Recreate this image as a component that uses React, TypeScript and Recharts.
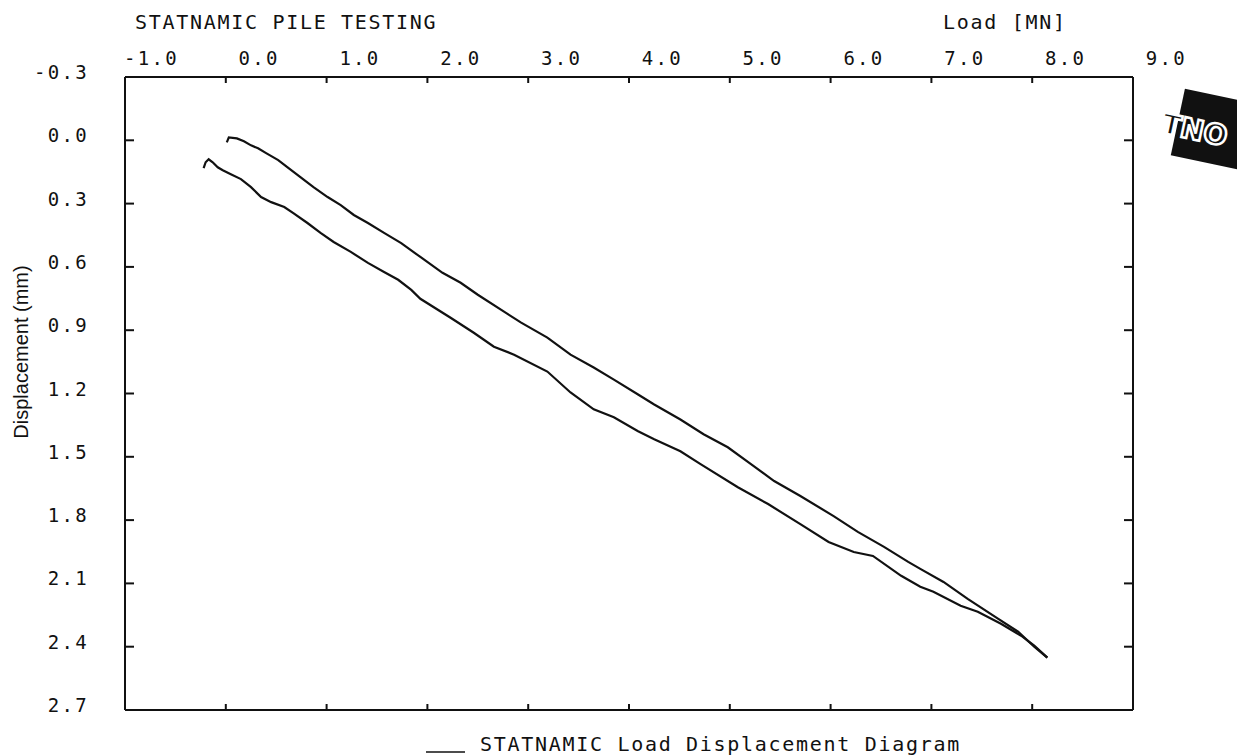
import React from "react";
import { LineChart, Line, XAxis, YAxis } from "recharts";

// Tick values
const xTicks = [-1, 0, 1, 2, 3, 4, 5, 6, 7, 8, 9];
const yTicks = [-0.3, 0, 0.3, 0.6, 0.9, 1.2, 1.5, 1.8, 2.1, 2.4, 2.7];

// Loading branch (upper curve) – Load [MN], Displacement [mm]
const loadingLoad = [0.01, 0.03, 0.11, 0.18, 0.25, 0.32, 0.40, 0.52, 0.61, 0.74, 0.87, 1.01, 1.14, 1.27, 1.41, 1.57, 1.74, 1.93, 2.15, 2.33, 2.50, 2.76, 2.93, 3.19, 3.42, 3.65, 3.85, 4.09, 4.25, 4.51, 4.74, 4.98, 5.21, 5.44, 5.70, 6.03, 6.27, 6.53, 6.77, 6.89, 7.12, 7.36, 7.66, 7.86, 8.02, 8.15];
const loadingDisp = [0.01, -0.014, -0.009, 0.005, 0.024, 0.038, 0.061, 0.094, 0.127, 0.175, 0.222, 0.269, 0.307, 0.354, 0.392, 0.439, 0.487, 0.553, 0.628, 0.675, 0.732, 0.812, 0.864, 0.935, 1.016, 1.077, 1.134, 1.205, 1.252, 1.323, 1.393, 1.455, 1.535, 1.615, 1.686, 1.781, 1.856, 1.927, 1.998, 2.031, 2.093, 2.173, 2.267, 2.329, 2.400, 2.452];

// Unloading branch (lower curve)
const unloadingLoad = [8.15, 8.02, 7.89, 7.69, 7.46, 7.29, 7.02, 6.89, 6.70, 6.42, 6.23, 5.98, 5.70, 5.38, 5.08, 4.71, 4.51, 4.25, 4.09, 3.85, 3.65, 3.42, 3.19, 2.86, 2.66, 2.46, 2.23, 1.93, 1.84, 1.71, 1.57, 1.41, 1.24, 1.07, 0.94, 0.81, 0.67, 0.58, 0.45, 0.35, 0.25, 0.15, 0.05, -0.03, -0.08, -0.13, -0.17, -0.20, -0.22];
const unloadingDisp = [2.452, 2.395, 2.348, 2.291, 2.234, 2.206, 2.140, 2.116, 2.064, 1.970, 1.951, 1.904, 1.819, 1.724, 1.644, 1.535, 1.474, 1.417, 1.379, 1.313, 1.275, 1.195, 1.096, 1.016, 0.978, 0.912, 0.841, 0.751, 0.709, 0.661, 0.624, 0.581, 0.529, 0.482, 0.439, 0.392, 0.345, 0.316, 0.293, 0.269, 0.222, 0.184, 0.161, 0.142, 0.128, 0.104, 0.090, 0.104, 0.132];

const titleText = "STATNAMIC PILE TESTING";
const xAxisTitle = "Load [MN]";
const yAxisTitle = "Displacement (mm)";
const legendText = "STATNAMIC Load Displacement Diagram";
const logoText = "TNO";

const loadingData = loadingLoad.map((l, i) => ({ load: l, disp: loadingDisp[i] }));
const unloadingData = unloadingLoad.map((l, i) => ({ load: l, disp: unloadingDisp[i] }));

const INK = "#111";
const tickFont: React.CSSProperties = {
  fontFamily: "'DejaVu Sans Mono', monospace",
  fontSize: 19,
  letterSpacing: 2.3,
  fill: INK,
};
const labelFont: React.CSSProperties = {
  fontFamily: "'DejaVu Sans Mono', monospace",
  fontSize: 20,
  letterSpacing: 1.7,
  fill: INK,
};

const TopTick = (props: any) => {
  const { x, y, payload } = props;
  return (
    <text x={x + 54} y={y} textAnchor="end" style={tickFont}>
      {Number(payload.value).toFixed(1)}
    </text>
  );
};

const LeftTick = (props: any) => {
  const { x, y, payload } = props;
  return (
    <text x={x} y={y + 2} textAnchor="end" style={tickFont}>
      {Number(payload.value).toFixed(1)}
    </text>
  );
};

const NoTick = () => <g />;

export default function App() {
  const W = 1237;
  const H = 756;
  return (
    <div style={{ position: "absolute", left: 0, top: 0, width: W, height: H, background: "#fff" }}>
      <LineChart width={W} height={H} margin={{ top: 0, right: 0, bottom: 0, left: 0 }}>
        <XAxis
          xAxisId="top"
          orientation="top"
          type="number"
          dataKey="load"
          domain={[-1, 9]}
          ticks={xTicks}
          interval={0}
          height={77}
          tickSize={-6}
          tickMargin={18}
          stroke={INK}
          strokeWidth={2}
          tick={TopTick}
          allowDataOverflow
        />
        <XAxis
          xAxisId="bottom"
          orientation="bottom"
          type="number"
          dataKey="load"
          domain={[-1, 9]}
          ticks={xTicks}
          interval={0}
          height={46}
          tickSize={-6}
          stroke={INK}
          strokeWidth={2}
          tick={NoTick}
          allowDataOverflow
        />
        <YAxis
          yAxisId="left"
          orientation="left"
          type="number"
          dataKey="disp"
          domain={[-0.3, 2.7]}
          reversed
          ticks={yTicks}
          interval={0}
          width={125}
          tickSize={-9}
          tickMargin={45}
          stroke={INK}
          strokeWidth={2}
          tick={LeftTick}
          allowDataOverflow
        />
        <YAxis
          yAxisId="right"
          orientation="right"
          type="number"
          dataKey="disp"
          domain={[-0.3, 2.7]}
          reversed
          ticks={yTicks}
          interval={0}
          width={104}
          tickSize={-9}
          stroke={INK}
          strokeWidth={2}
          tick={NoTick}
          allowDataOverflow
        />
        <Line
          xAxisId="top"
          yAxisId="left"
          data={loadingData}
          dataKey="disp"
          type="linear"
          stroke={INK}
          strokeWidth={2.2}
          dot={false}
          activeDot={false}
          isAnimationActive={false}
        />
        <Line
          xAxisId="top"
          yAxisId="left"
          data={unloadingData}
          dataKey="disp"
          type="linear"
          stroke={INK}
          strokeWidth={2.2}
          dot={false}
          activeDot={false}
          isAnimationActive={false}
        />
      </LineChart>
      <svg
        width={W}
        height={H}
        style={{ position: "absolute", left: 0, top: 0, pointerEvents: "none" }}
      >
        <text x={135} y={29} style={labelFont}>{titleText}</text>
        <text x={943} y={29} style={labelFont}>{xAxisTitle}</text>
        <text
          transform="translate(28,352) rotate(-90)"
          textAnchor="middle"
          style={{ fontFamily: "'Liberation Sans', Arial, sans-serif", fontSize: 20, fill: INK }}
        >
          {yAxisTitle}
        </text>
        <line x1={426} x2={465} y1={752} y2={752} stroke={INK} strokeWidth={1.5} />
        <text x={480} y={751} style={labelFont}>{legendText}</text>
        <g transform="translate(1197,128) rotate(12)">
          <rect x={-20} y={-36} width={70} height={68} fill={INK} />
          <text
            x={-2}
            y={12}
            textAnchor="middle"
            style={{ fontFamily: "'DejaVu Sans', sans-serif", fontWeight: 900, fontSize: 28, fill: INK, stroke: "#fff", strokeWidth: 2.5 }}
          >
            {logoText}
          </text>
        </g>
      </svg>
    </div>
  );
}
